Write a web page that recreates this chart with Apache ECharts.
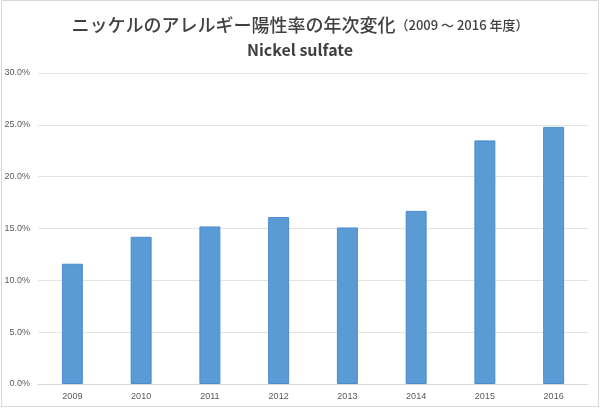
<!DOCTYPE html>
<html>
<head>
<meta charset="utf-8">
<script src="https://cdn.jsdelivr.net/npm/echarts@6/dist/echarts.min.js"></script>
<style>
  html, body { margin: 0; padding: 0; background: #fff; }
  #myChart { width: 600px; height: 408px; }
</style>
</head>
<body>
<div id="myChart"></div>
<script>
// 年度
var years = ['2009', '2010', '2011', '2012', '2013', '2014', '2015', '2016'];
// 陽性率 (%)
var positiveRate = [11.6, 14.2, 15.2, 16.1, 15.1, 16.7, 23.5, 24.8];
var yTicks = [0, 5, 10, 15, 20, 25, 30];

window.onload = function () {
    var myChart = echarts.init(document.getElementById('myChart'));
    var labelColor = '#595959';
    var fontJa = '"Noto Sans CJK JP", "Noto Sans", sans-serif';

    var option = {
        backgroundColor: '#fff',
        animation: false,
        title: [{
            text: '{a|ニッケルのアレルギー陽性率の年次変化}{b|（2009 ～ 2016 年度）}',
            left: 'center',
            top: 11,
            textStyle: {
                rich: {
                    a: { fontFamily: fontJa, fontSize: 18, color: '#404040', fontWeight: 500 },
                    b: { fontFamily: fontJa, fontSize: 13, color: '#404040', fontWeight: 500 }
                }
            }
        }, {
            text: 'Nickel sulfate',
            left: 'center',
            top: 37,
            textStyle: { fontFamily: fontJa, fontSize: 16, fontWeight: 'bold', color: '#404040' }
        }],
        graphic: [{
            type: 'rect',
            shape: { x: 1.5, y: 0.5, width: 597, height: 406 },
            style: { fill: 'none', stroke: '#d9d9d9', lineWidth: 1 },
            silent: true
        }],
        grid: { left: 38, right: 12, top: 73, bottom: 24 },
        xAxis: {
            type: 'category',
            data: years,
            axisTick: { show: false },
            axisLine: { lineStyle: { color: '#d9d9d9' } },
            axisLabel: { color: labelColor, fontSize: 9, margin: 8, fontFamily: 'Liberation Sans, sans-serif' }
        },
        yAxis: {
            type: 'value',
            min: yTicks[0],
            max: yTicks[yTicks.length - 1],
            interval: 5,
            axisLine: { show: false },
            axisTick: { show: false },
            splitLine: { lineStyle: { color: '#e3e3e3' } },
            axisLabel: {
                color: labelColor, fontSize: 9, margin: 8, fontFamily: 'Liberation Sans, sans-serif',
                formatter: function (v) { return v.toFixed(1) + '%'; }
            }
        },
        series: [{
            type: 'bar',
            data: positiveRate,
            barWidth: '30.5%',
            itemStyle: { color: '#5b9bd5', borderColor: '#4a8bd0', borderWidth: 1 }
        }]
    };
    myChart.setOption(option);
};
</script>
</body>
</html>
